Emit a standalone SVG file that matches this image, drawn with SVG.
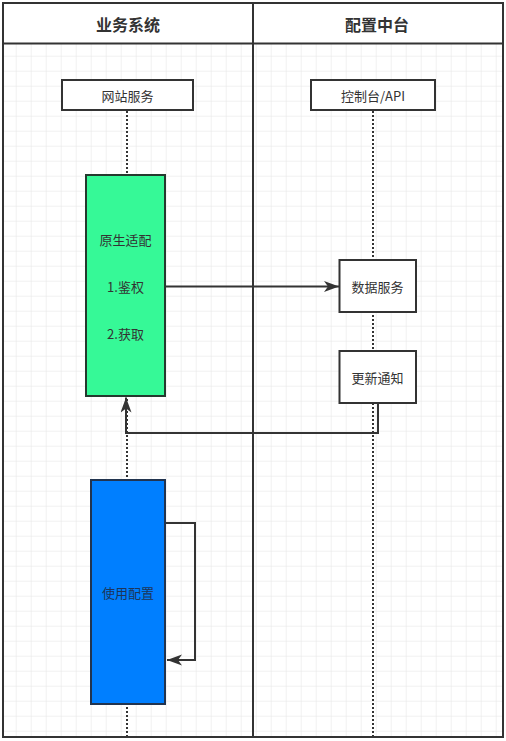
<svg xmlns="http://www.w3.org/2000/svg" width="506" height="741" viewBox="0 0 506 741">
  <defs>
    <pattern id="grid" patternUnits="userSpaceOnUse" x="0.7" y="10.7" width="15" height="15">
      <path d="M0,0 H15 M0,0 V15" fill="none" stroke="#e4e4e4" stroke-width="1"/>
    </pattern>
    <marker id="arrow" markerUnits="userSpaceOnUse" markerWidth="16" markerHeight="12" refX="15" refY="5.5" orient="auto">
      <path d="M0,0 L15,5.5 L0,11 L4,5.5 Z" fill="#333333"/>
    </marker>
  </defs>
  <style>
    .frame { fill: none; stroke: #333333; stroke-width: 2; }
    .box { fill: #ffffff; stroke: #333333; stroke-width: 2; }
    .life { fill: none; stroke: #333333; stroke-width: 2; stroke-dasharray: 2 2; }
    .conn { fill: none; stroke: #333333; stroke-width: 2; marker-end: url(#arrow); }
    .title { font-family: "Noto Sans CJK SC", "Liberation Sans", sans-serif; font-size: 16px; font-weight: bold; fill: #333333; text-anchor: middle; dominant-baseline: central; }
    .lbl { font-family: "Noto Sans CJK SC", "Liberation Sans", sans-serif; font-size: 13px; fill: #333333; text-anchor: middle; dominant-baseline: central; }
  </style>
  <rect x="0" y="0" width="506" height="741" fill="#ffffff"/>
  <rect x="4" y="44" width="498" height="692" fill="url(#grid)"/>

  <g id="pool">
    <rect class="frame" x="3" y="3" width="500" height="734"/>
    <line class="frame" x1="3" y1="43.5" x2="503" y2="43.5"/>
    <line class="frame" x1="253" y1="3" x2="253" y2="737"/>
    <text class="title" x="128" y="24">业务系统</text>
    <text class="title" x="377" y="24">配置中台</text>
  </g>

  <g id="lifelines">
    <line class="life" x1="127" y1="111" x2="127" y2="737"/>
    <line class="life" x1="373" y1="111" x2="373" y2="737"/>
  </g>

  <g id="node-website">
    <rect class="box" x="62" y="80" width="131" height="30"/>
    <text class="lbl" x="127.5" y="95">网站服务</text>
  </g>

  <g id="node-console">
    <rect class="box" x="311" y="80" width="124" height="30"/>
    <text class="lbl" x="373" y="95">控制台/API</text>
  </g>

  <g id="node-native">
    <rect x="86" y="175" width="79" height="221" fill="#36f997" stroke="#25392e" stroke-width="2"/>
    <text class="lbl" x="125.5" y="239">原生适配</text>
    <text class="lbl" x="125.5" y="286">1.鉴权</text>
    <text class="lbl" x="125.5" y="333">2.获取</text>
  </g>

  <g id="node-data">
    <rect class="box" x="339.5" y="260" width="76.5" height="52"/>
    <text class="lbl" x="377.5" y="286">数据服务</text>
  </g>

  <g id="node-notify">
    <rect class="box" x="339.5" y="351" width="76.5" height="52"/>
    <text class="lbl" x="377.5" y="377">更新通知</text>
  </g>

  <g id="node-use">
    <rect x="91" y="480" width="74" height="224" fill="#007fff" stroke="#22344f" stroke-width="2"/>
    <text class="lbl" x="128" y="592" style="fill:#1d3559">使用配置</text>
  </g>

  <g id="connectors">
    <path class="conn" d="M166,286.5 H339"/>
    <path class="conn" d="M378,403 V433 H126 V397.5"/>
    <path class="conn" d="M166,523 H195 V660 H167"/>
  </g>
</svg>
